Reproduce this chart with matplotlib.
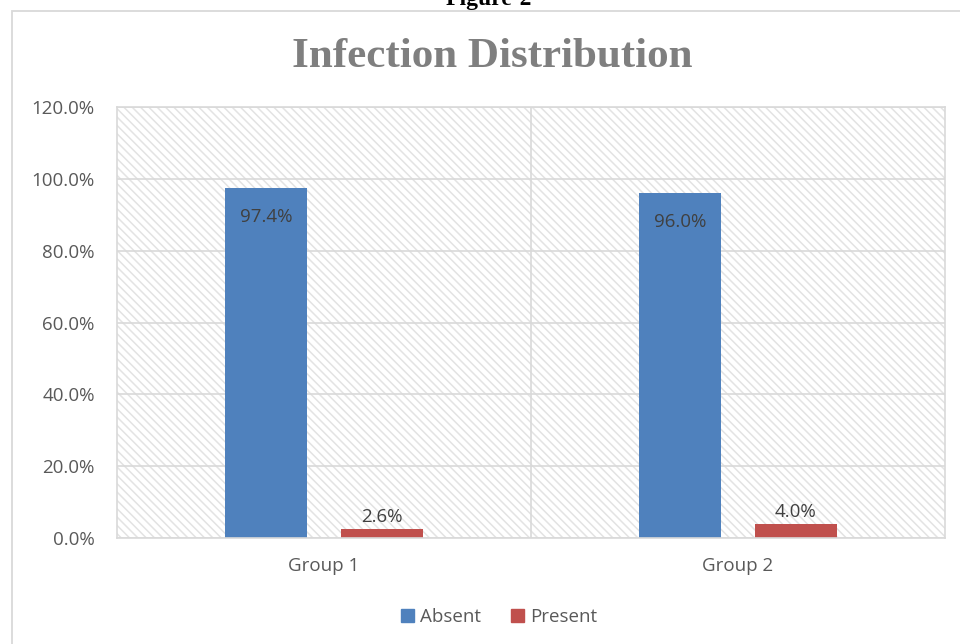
import matplotlib
matplotlib.use('Agg')
import matplotlib.pyplot as plt
import numpy as np
from matplotlib.patches import Rectangle, Patch

categories = ['Group 1', 'Group 2']
series_names = ['Absent', 'Present']
absent = [97.4, 96.0]
present = [2.6, 4.0]
yticks = [0, 20, 40, 60, 80, 100, 120]
ytick_labels = ['0.0%', '20.0%', '40.0%', '60.0%', '80.0%', '100.0%', '120.0%']
title = 'Infection Distribution'
caption = 'Figure-2'

plt.rcParams['font.family'] = ['Open Sans', 'DejaVu Sans']
plt.rcParams['hatch.linewidth'] = 1.1

W, H = 960, 644
fig = plt.figure(figsize=(9.6, 6.44), dpi=100)
fig.patch.set_facecolor('white')

ax = fig.add_axes([117 / W, 1 - 538 / H, (945 - 117) / W, (538 - 107) / H])
ax.set_facecolor('white')
bg = Rectangle((0, 0), 1, 1, transform=ax.transAxes, facecolor='white',
               edgecolor='#e3e3e3', lw=0, hatch='\\\\\\\\', zorder=0)
ax.add_patch(bg)

grid_c = '#d9d9d9'
ax.set_axisbelow(True)
ax.yaxis.grid(True, color=grid_c, lw=1.2)
ax.axvline(0.5, color=grid_c, lw=1.2, zorder=0.5)
for s in ax.spines.values():
    s.set_color(grid_c)
    s.set_linewidth(1.2)

x = np.arange(len(categories))
bw = 0.196
off = 0.14
b1 = ax.bar(x - off, absent, bw, color='#4F81BD', zorder=2, label=series_names[0])
b2 = ax.bar(x + off, present, bw, color='#C0504D', zorder=2, label=series_names[1])

txt_c = '#404040'
fs = 13.5
for rect, v in zip(b1, absent):
    ax.annotate(f'{v:.1f}%', (rect.get_x() + rect.get_width() / 2, v),
                xytext=(0, -20.5), textcoords='offset points', ha='center',
                va='center', fontsize=fs, color=txt_c, zorder=3)
for rect, v in zip(b2, present):
    ax.annotate(f'{v:.1f}%', (rect.get_x() + rect.get_width() / 2, v),
                xytext=(0, 2), textcoords='offset points', ha='center',
                va='bottom', fontsize=fs, color=txt_c, zorder=3)

ax.set_xlim(-0.5, 1.5)
ax.set_ylim(0, 120)
ax.set_yticks(yticks)
ax.set_yticklabels(ytick_labels)
ax.set_xticks(x)
ax.set_xticklabels(categories)
ax.tick_params(axis='both', length=0, colors='#595959', labelsize=fs)
ax.tick_params(axis='y', pad=16)
ax.tick_params(axis='x', pad=14)

handles = [Patch(color='#4F81BD'), Patch(color='#C0504D')]
fig.legend(handles, series_names, loc='center', bbox_to_anchor=(499 / W, 1 - 617 / H),
           ncol=2, frameon=False, handlelength=0.7, handleheight=0.7,
           columnspacing=1.6, handletextpad=0.3, prop={'size': fs},
           labelcolor='#595959')

fig.text(492 / W, 1 - 57 / H, title, ha='center', va='center',
         family=['Liberation Serif'], fontweight='bold', fontsize=31, color='#7f7f7f')
fig.text(489 / W, 1 - 5 / H, caption, ha='center', va='baseline',
         family=['Liberation Serif'], fontweight='bold', fontsize=17, color='black')

fig.add_artist(Rectangle((12 / W, -0.1), 1.2, 1 - 11 / H + 0.1, transform=fig.transFigure,
                         fill=False, edgecolor=grid_c, lw=1.3))

fig.savefig('out.png', dpi=100)
